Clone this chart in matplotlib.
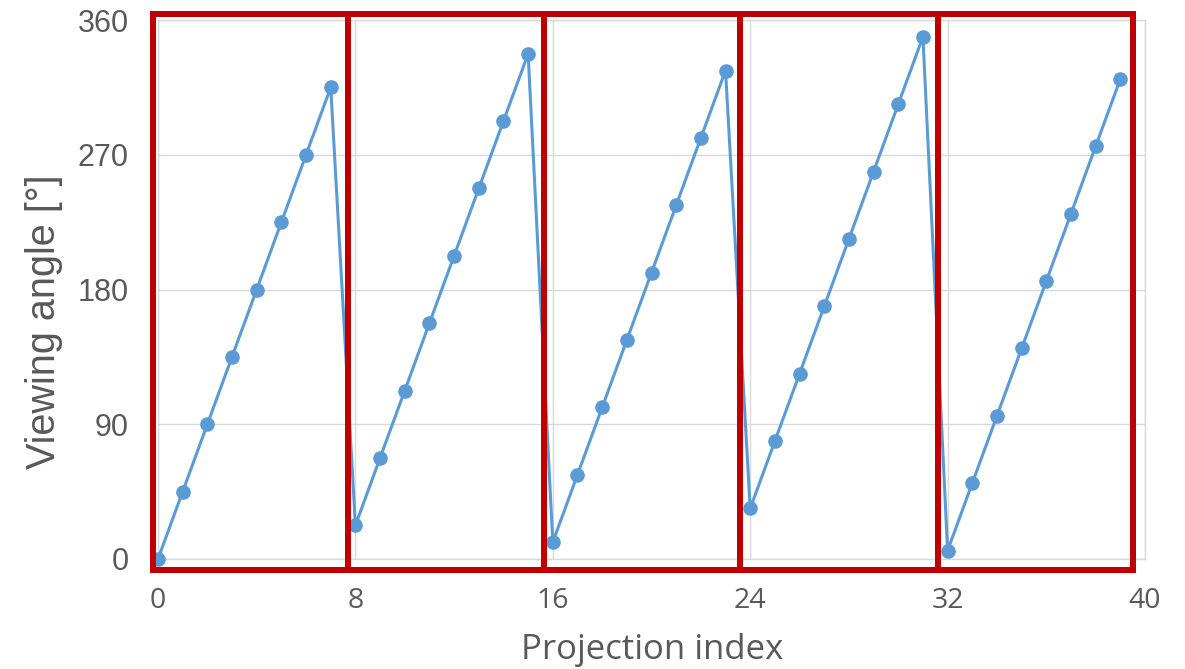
import matplotlib
matplotlib.use("Agg")
import matplotlib.pyplot as plt
from matplotlib.patches import Rectangle

projection_index = list(range(40))
viewing_angle = [
    0, 45, 90, 135, 180, 225, 270, 315,
    22.5, 67.5, 112.5, 157.5, 202.5, 247.5, 292.5, 337.5,
    11.25, 56.25, 101.25, 146.25, 191.25, 236.25, 281.25, 326.25,
    33.75, 78.75, 123.75, 168.75, 213.75, 258.75, 303.75, 348.75,
    5.625, 50.625, 95.625, 140.625, 185.625, 230.625, 275.625, 320.625,
]
x_ticks = [0, 8, 16, 24, 32, 40]
y_ticks = [0, 90, 180, 270, 360]
group_edges = [-0.2, 7.7, 15.65, 23.6, 31.6, 39.5]

DPI = 100
W, H = 1185, 669
fig = plt.figure(figsize=(W / DPI, H / DPI), dpi=DPI)
ax = fig.add_axes([158 / W, 1 - 559 / H, (1145 - 158) / W, (559 - 20) / H])

gray = "#595959"
blue = "#5B9BD5"
grid = "#D9D9D9"

ax.plot(projection_index, viewing_angle, color=blue, lw=2.2, marker="o",
        markersize=9.5, zorder=3, clip_on=False)

ax.set_xlim(0, 40)
ax.set_ylim(0, 360)
ax.set_xticks(x_ticks)
ax.set_yticks(y_ticks)
ax.grid(True, color=grid, lw=1.0)
ax.set_axisbelow(True)
for s in ax.spines.values():
    s.set_color(grid)
    s.set_linewidth(1.0)
ax.tick_params(length=0)
ax.tick_params(axis="y", pad=21, labelsize=22, labelcolor=gray)
ax.tick_params(axis="x", pad=20, labelsize=20.5, labelcolor=gray)
for lab in ax.get_yticklabels():
    lab.set_fontfamily("Liberation Sans")
for lab in ax.get_xticklabels():
    lab.set_fontfamily("Open Sans")

fig.text(44.5 / W, 1 - 322 / H, "Viewing angle [°]", rotation=90, ha="center", va="center",
         fontsize=28.5, color=gray, family="Liberation Sans")
fig.text(652 / W, 1 - 650 / H, "Projection index", ha="center", va="center",
         fontsize=25, color=gray, family="Open Sans")

y0, y1 = -7.3, 364
for a, b in zip(group_edges[:-1], group_edges[1:]):
    ax.add_patch(Rectangle((a, y0), b - a, y1 - y0, fill=False, edgecolor="#C00000",
                           lw=6 * 72 / DPI, clip_on=False, zorder=4))

fig.savefig("out.png", dpi=DPI)
